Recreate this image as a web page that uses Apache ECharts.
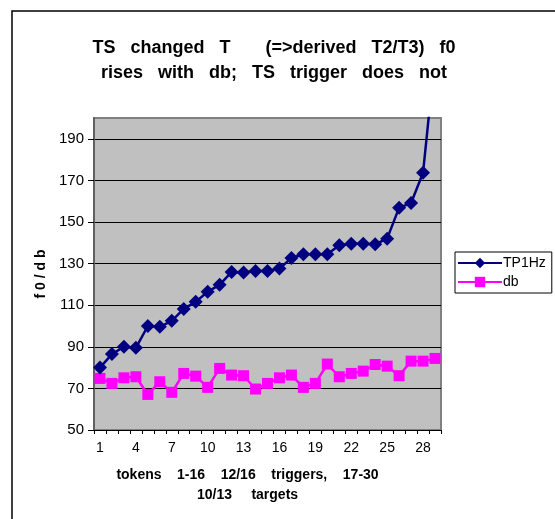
<!DOCTYPE html>
<html>
<head>
<meta charset="utf-8">
<script src="https://cdn.jsdelivr.net/npm/echarts@6/dist/echarts.min.js"></script>
<style>
  html, body { margin: 0; padding: 0; background: #fff; }
  #chart { width: 555px; height: 519px; }
</style>
</head>
<body>
<div id="chart"></div>
<script>
// tokens 1..29
const tokens = Array.from({ length: 29 }, (_, i) => String(i + 1));

const tp1Hz = [80, 86.5, 90, 89.5, 100, 99.6, 102.5, 108.2, 111.6, 116.5, 119.8, 126, 125.7, 126.5, 126.5, 127.6,
  132.7, 134.5, 134.5, 134.5, 138.8, 139.6, 139.6, 139.3, 142, 156.9, 159.1, 173.7, 230];
const db = [74.8, 72.4, 75.1, 75.6, 67.1, 73.2, 68.1, 77.2, 75.9, 70.5, 79.6, 76.4, 76.1, 69.7, 72.4, 75.1,
  76.4, 70.5, 72.4, 81.7, 75.6, 77.2, 78.3, 81.5, 80.7, 76.1, 83.1, 83.1, 84.4];

const yTicks = [50, 70, 90, 110, 130, 150, 170, 190];

const FONT = '"Liberation Sans", Arial, sans-serif';

const chart = echarts.init(document.getElementById('chart'));

chart.setOption({
  animation: false,
  backgroundColor: '#fff',
  textStyle: { fontFamily: FONT },
  title: {
    text: 'TS   changed   T       (=>derived   T2/T3)   f0\nrises   with   db;   TS   trigger   does   not',
    left: 269,
    textAlign: 'center',
    top: 31,
    textStyle: { fontSize: 18, fontWeight: 'bold', color: '#000', lineHeight: 25, fontFamily: FONT }
  },
  graphic: [{
    type: 'rect',
    shape: { x: 12, y: 11, width: 560, height: 530 },
    style: { fill: 'none', stroke: '#000', lineWidth: 1.5 },
    silent: true
  }],
  legend: {
    orient: 'vertical',
    left: 455,
    top: 252,
    itemWidth: 44,
    itemHeight: 13,
    itemGap: 5,
    padding: [4, 6, 4, 2],
    borderColor: '#000',
    borderWidth: 1,
    textStyle: { fontSize: 14, color: '#000', fontFamily: FONT, padding: [0, 0, 0, -4] },
    data: ['TP1Hz', 'db']
  },
  grid: {
    left: 94, right: 114, top: 118, bottom: 89,
    show: true,
    backgroundColor: '#c0c0c0',
    borderColor: '#808080',
    borderWidth: 2
  },
  xAxis: {
    type: 'category',
    data: tokens,
    boundaryGap: true,
    axisLine: { lineStyle: { color: '#000', width: 1 } },
    axisTick: { show: true, interval: 0, length: 4, lineStyle: { color: '#000' } },
    axisLabel: { interval: 2, fontSize: 14, color: '#000', margin: 11, fontFamily: FONT },
    name: 'tokens    1-16    12/16    triggers,    17-30\n10/13     targets',
    nameLocation: 'middle',
    nameGap: 35,
    nameTextStyle: { fontSize: 14, fontWeight: 'bold', color: '#000', lineHeight: 20, padding: [0, 40, 0, 0], fontFamily: FONT }
  },
  yAxis: {
    type: 'value',
    min: 50, max: 200, interval: 10,
    axisLine: { show: true, lineStyle: { color: '#606060', width: 2 } },
    axisTick: { show: true, length: 6, customValues: yTicks, lineStyle: { color: '#000' } },
    axisLabel: { fontSize: 15, color: '#000', margin: 10, customValues: yTicks, fontFamily: FONT },
    splitLine: { show: true, lineStyle: { color: '#000', width: 1 } },
    name: 'f 0 / d b',
    nameLocation: 'middle',
    nameRotate: 90,
    nameGap: 43,
    nameTextStyle: { fontSize: 14, fontWeight: 'bold', color: '#000', fontFamily: FONT }
  },
  series: [
    {
      name: 'TP1Hz',
      type: 'line',
      data: tp1Hz,
      color: '#000080',
      symbol: 'diamond',
      symbolSize: 14,
      showAllSymbol: true,
      lineStyle: { width: 2.5, color: '#000080' },
      itemStyle: { color: '#000080' },
      clip: true,
      z: 3
    },
    {
      name: 'db',
      type: 'line',
      data: db,
      color: '#ff00ff',
      symbol: 'rect',
      symbolSize: 11,
      showAllSymbol: true,
      lineStyle: { width: 2.5, color: '#ff00ff' },
      itemStyle: { color: '#ff00ff' },
      clip: true,
      z: 2
    }
  ]
});
</script>
</body>
</html>
